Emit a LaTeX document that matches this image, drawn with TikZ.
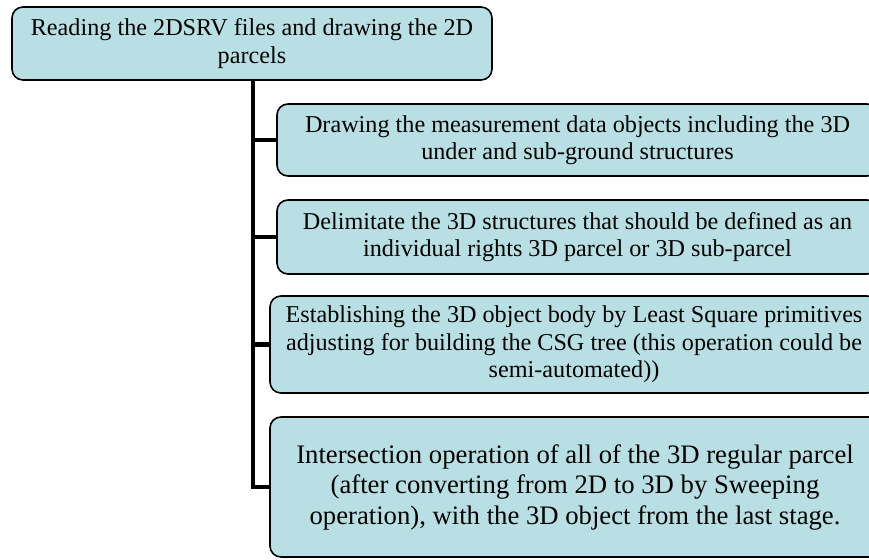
\documentclass[tikz,border=0pt]{standalone}
\usepackage{fontspec}
\setmainfont{Liberation Serif}
\definecolor{boxfill}{RGB}{184,223,227}
\begin{document}
\begin{tikzpicture}[x=1pt,y=-1pt,
  stagebox/.style={draw=black, line width=1.6pt, fill=boxfill, rounded corners=11pt, align=center, inner sep=0pt, font=\fontsize{24.2}{27.5}\selectfont},
  bigbox/.style={stagebox, font=\fontsize{26.7}{30.5}\selectfont},
  link/.style={line width=4.5pt, black}]
\useasboundingbox (0,0) rectangle (869,559);
\clip (0,0) rectangle (869,559);
\node[stagebox, minimum width=480pt, minimum height=73pt] (top) at (252,43.5)
  {Reading the 2DSRV files and drawing the 2D\\parcels};
\node[stagebox, minimum width=601pt, minimum height=72pt] (b1) at (577.5,140)
  {Drawing the measurement data objects including the 3D\\under and sub-ground structures};
\node[stagebox, minimum width=601pt, minimum height=74pt] (b2) at (577.5,237)
  {Delimitate the 3D structures that should be defined as an\\individual rights 3D parcel or 3D sub-parcel};
\node[stagebox, minimum width=608pt, minimum height=97pt] (b3) at (574,344.5)
  {Establishing the 3D object body by Least Square primitives\\adjusting for building the CSG tree (this operation could be\\semi-automated))};
\node[bigbox, minimum width=610pt, minimum height=140pt] (b4) at (575,487)
  {Intersection operation of all of the 3D regular parcel\\(after converting from 2D to 3D by Sweeping\\operation), with the 3D object from the last stage.};
\coordinate (spine) at (253,0);
\draw[link] (top.south -| spine) |- (b4.west);
\draw[link] (b1.west -| spine) -- (b1.west);
\draw[link] (b2.west -| spine) -- (b2.west);
\draw[link] (b3.west -| spine) -- (b3.west);
\end{tikzpicture}
\end{document}
